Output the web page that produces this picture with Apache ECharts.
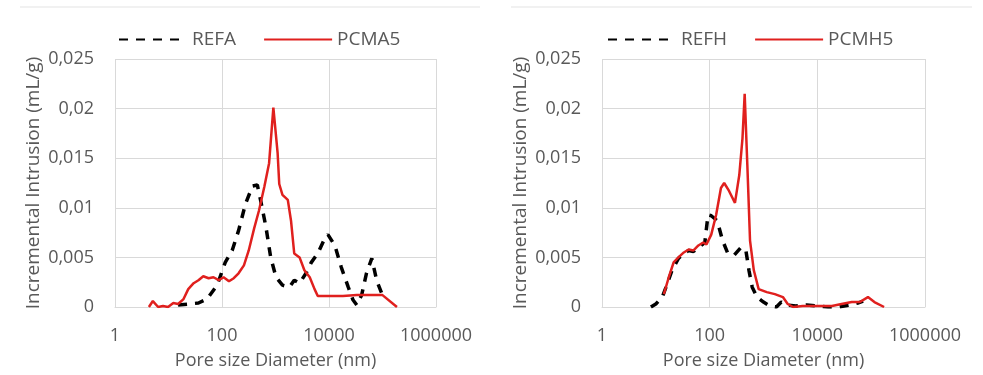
<!DOCTYPE html>
<html>
<head>
<meta charset="utf-8">
<script src="https://cdn.jsdelivr.net/npm/echarts@6/dist/echarts.min.js"></script>
<style>html,body{margin:0;padding:0;background:#fff;}#c{width:983px;height:375px;}</style>
</head>
<body>
<div id="c"></div>
<script>
// ---- data (pore diameter in nm, incremental intrusion in mL/g) ----
var refaD = [15.1, 36.3, 52.5, 81.3, 115, 155, 204, 275, 372, 457, 525, 661, 813, 1023, 1349, 1820, 2239, 2818, 3715, 4677, 6166, 8318, 9550, 12882, 16982, 22909, 28184, 33113, 40738, 50119, 63096, 77625, 97724];
var refaV = [0.0002, 0.0004, 0.0008, 0.0022, 0.0045, 0.0057, 0.0077, 0.0104, 0.0122, 0.0123, 0.0108, 0.0081, 0.0050, 0.0030, 0.0022, 0.0020, 0.0027, 0.0024, 0.0034, 0.0045, 0.0054, 0.0069, 0.0073, 0.0062, 0.0040, 0.0020, 0.0007, 0.0002, 0.0012, 0.0034, 0.0049, 0.0027, 0.0013];

var pcma5D = [4.3, 5.1, 6.4, 7.9, 9.8, 12.3, 15.1, 19.1, 23.4, 29.5, 36.3, 44.7, 56.2, 69.2, 87.1, 107, 135, 166, 204, 257, 316, 398, 490, 617, 759, 912, 1096, 1175, 1349, 1698, 1950, 2239, 2818, 3467, 4365, 5370, 6166, 10233, 18197, 33113, 58884, 100000, 186209];
var pcma5V = [0.0000, 0.0006, 0.0000, 0.0001, 0.0000, 0.0004, 0.0003, 0.0008, 0.0018, 0.0024, 0.0027, 0.0031, 0.0029, 0.0030, 0.0027, 0.0030, 0.0026, 0.0029, 0.0034, 0.0042, 0.0057, 0.0079, 0.0097, 0.0121, 0.0145, 0.0201, 0.0155, 0.0124, 0.0113, 0.0108, 0.0087, 0.0054, 0.0050, 0.0037, 0.0030, 0.0018, 0.0011, 0.0011, 0.0011, 0.0012, 0.0012, 0.0012, 0.0000];

var refhD = [8.1, 10, 13.2, 16.2, 20, 26.3, 33.1, 40.7, 50.1, 61.7, 81.3, 93.3, 107, 138, 174, 214, 282, 380, 468, 537, 617, 759, 1000, 1318, 1738, 2138, 2630, 3981, 6310, 10000, 15849, 25119, 39811, 56234, 70795];
var refhV = [0.0000, 0.0003, 0.0010, 0.0023, 0.0037, 0.0049, 0.0054, 0.0057, 0.0056, 0.0060, 0.0065, 0.0093, 0.0092, 0.0087, 0.0067, 0.0055, 0.0052, 0.0060, 0.0058, 0.0037, 0.0020, 0.0010, 0.0005, 0.0001, 0.0000, 0.0005, 0.0002, 0.0001, 0.0002, 0.0001, 0.0000, 0.0000, 0.0002, 0.0004, 0.0006];

var pcmh5D = [14.1, 17.4, 21.4, 26.3, 33.1, 40.7, 50.1, 61.7, 75.9, 87.1, 107, 132, 162, 186, 229, 295, 355, 407, 447, 501, 562, 661, 813, 1148, 1622, 2291, 2818, 3548, 5370, 8128, 12303, 18621, 28184, 43652, 61660, 87096, 114815, 173780];
var pcmh5V = [0.0013, 0.0030, 0.0045, 0.0050, 0.0055, 0.0058, 0.0057, 0.0062, 0.0065, 0.0063, 0.0073, 0.0093, 0.0120, 0.0125, 0.0117, 0.0105, 0.0133, 0.0170, 0.0215, 0.0143, 0.0067, 0.0037, 0.0018, 0.0015, 0.0013, 0.0010, 0.0003, 0.0000, 0.0001, 0.0001, 0.0001, 0.0001, 0.0003, 0.0005, 0.0005, 0.0010, 0.0005, 0.0000];

var xTicks = [1, 100, 10000, 1000000];
var yMax = 0.025, yStep = 0.005;
var xTitle = 'Pore size Diameter (nm)';
var yTitle = 'Incremental Intrusion (mL/g)';

function zip(a, b) { return a.map(function (v, i) { return [v, b[i]]; }); }

var FONT = '"Open Sans", "Liberation Sans", sans-serif';
var TXT = '#595959';
var GRIDC = '#d9d9d9';
var RED = '#e0201e';

function xAx(i) {
  return {
    type: 'log', logBase: 10, gridIndex: i, min: xTicks[0], max: xTicks[xTicks.length - 1], interval: 2,
    name: xTitle, nameLocation: 'middle', nameGap: 45,
    nameTextStyle: { fontFamily: FONT, fontSize: 18, color: TXT },
    axisLine: { show: true, lineStyle: { color: GRIDC, width: 1 } },
    axisTick: { show: false },
    minorTick: { show: false },
    axisLabel: { fontFamily: FONT, fontSize: 18, color: TXT, margin: 20,
      formatter: function (v) { return xTicks.indexOf(v) >= 0 ? String(v) : ''; } },
    splitLine: { show: true, lineStyle: { color: GRIDC, width: 1 } }
  };
}
function yAx(i) {
  return {
    type: 'value', gridIndex: i, min: 0, max: yMax, interval: yStep,
    name: yTitle, nameLocation: 'middle', nameGap: 72, nameRotate: 90,
    nameTextStyle: { fontFamily: FONT, fontSize: 19, color: TXT },
    axisLine: { show: false }, axisTick: { show: false },
    axisLabel: { fontFamily: FONT, fontSize: 18, color: TXT, margin: 21,
      formatter: function (v) { return String(+v.toFixed(3)).replace('.', ','); } },
    splitLine: { show: true, lineStyle: { color: GRIDC, width: 1 } }
  };
}
function dashed(name, data, gi) {
  return { name: name, type: 'line', xAxisIndex: gi, yAxisIndex: gi, data: data, symbol: 'none',
    lineStyle: { color: '#000', width: 3.5, type: [9, 8] }, itemStyle: { color: '#000' }, z: 2, animation: false };
}
function solid(name, data, gi) {
  return { name: name, type: 'line', xAxisIndex: gi, yAxisIndex: gi, data: data, symbol: 'none',
    lineStyle: { color: RED, width: 2.5 }, itemStyle: { color: RED }, z: 3, animation: false };
}
function leg(left, names) {
  return { left: left, top: 30, padding: 0, itemWidth: 68, itemHeight: 14, itemGap: 27, data: names,
    itemStyle: { color: 'rgba(0,0,0,0)', opacity: 0, borderWidth: 0 },
    textStyle: { fontFamily: FONT, fontSize: 19, color: TXT }, selectedMode: false };
}

var chart = echarts.init(document.getElementById('c'), null, { renderer: 'canvas' });
chart.setOption({
  animation: false,
  backgroundColor: '#fff',
  graphic: [
    { type: 'line', shape: { x1: 20, y1: 7, x2: 480, y2: 7 }, style: { stroke: '#e3e3e3', lineWidth: 1 } },
    { type: 'line', shape: { x1: 511, y1: 7, x2: 972, y2: 7 }, style: { stroke: '#e3e3e3', lineWidth: 1 } }
  ],
  legend: [leg(118, ['REFA', 'PCMA5']), leg(607, ['REFH', 'PCMH5'])],
  grid: [
    { left: 115, right: 983 - 436, top: 59, bottom: 375 - 307, containLabel: false },
    { left: 602, right: 983 - 925, top: 59, bottom: 375 - 307, containLabel: false }
  ],
  xAxis: [xAx(0), xAx(1)],
  yAxis: [yAx(0), yAx(1)],
  series: [
    dashed('REFA', zip(refaD, refaV), 0),
    solid('PCMA5', zip(pcma5D, pcma5V), 0),
    dashed('REFH', zip(refhD, refhV), 1),
    solid('PCMH5', zip(pcmh5D, pcmh5V), 1)
  ]
});
</script>
</body>
</html>
